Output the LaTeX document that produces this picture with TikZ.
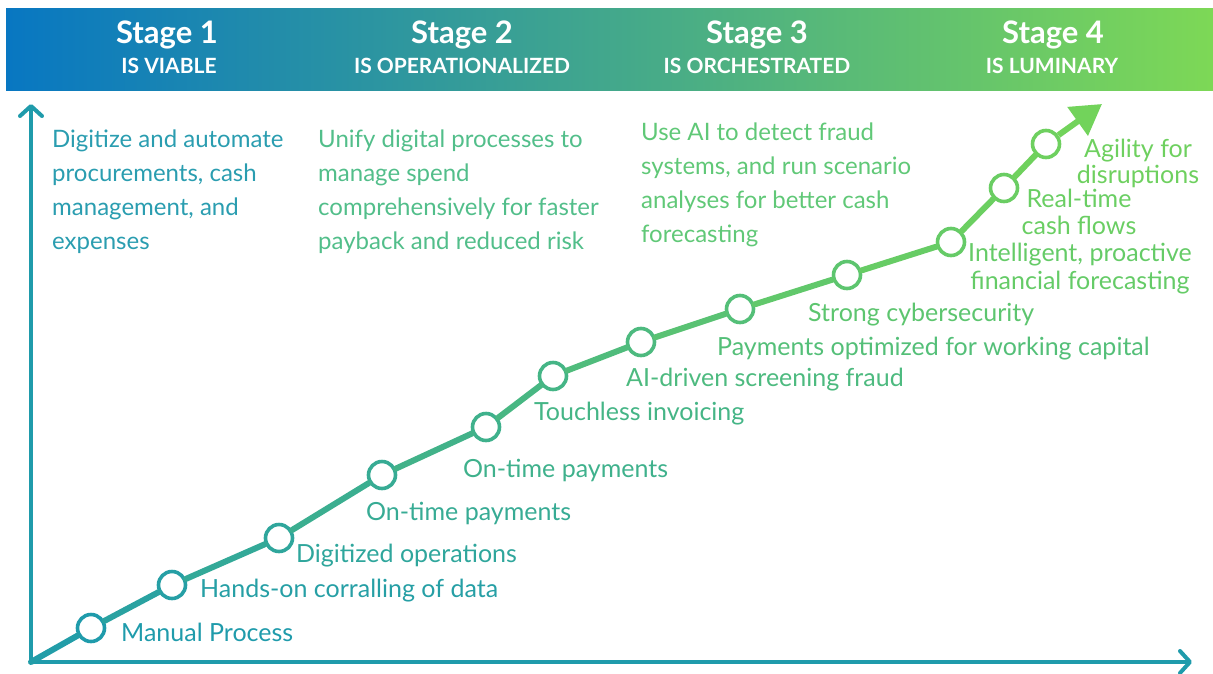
\documentclass[tikz,border=0pt]{standalone}
\usepackage{fontspec}
\setmainfont{Lato}
\usetikzlibrary{arrows.meta}

\definecolor{tealc}{HTML}{1F9BAB}
\definecolor{greenc}{HTML}{72D35B}
\definecolor{bandL}{HTML}{0877C2}
\definecolor{bandR}{HTML}{7DD856}
\definecolor{descA}{HTML}{2A9DB0}
\definecolor{descB}{HTML}{52BE8A}
\definecolor{descC}{HTML}{60C877}

% colour ramp along the curve, teal to green
\colorlet{c1}{greenc!0!tealc}
\colorlet{c2}{greenc!8!tealc}
\colorlet{c3}{greenc!19!tealc}
\colorlet{c4}{greenc!29!tealc}
\colorlet{c5}{greenc!39!tealc}
\colorlet{c6}{greenc!46!tealc}
\colorlet{c7}{greenc!55!tealc}
\colorlet{c8}{greenc!64!tealc}
\colorlet{c9}{greenc!75!tealc}
\colorlet{c10}{greenc!85!tealc}
\colorlet{c11}{greenc!90!tealc}
\colorlet{c12}{greenc!95!tealc}
\colorlet{s1}{greenc!4!tealc}
\colorlet{s2}{greenc!13!tealc}
\colorlet{s3}{greenc!24!tealc}
\colorlet{s4}{greenc!34!tealc}
\colorlet{s5}{greenc!42!tealc}
\colorlet{s6}{greenc!50!tealc}
\colorlet{s7}{greenc!59!tealc}
\colorlet{s8}{greenc!70!tealc}
\colorlet{s9}{greenc!80!tealc}
\colorlet{s10}{greenc!87!tealc}
\colorlet{s11}{greenc!92!tealc}
\colorlet{s12}{greenc!97!tealc}

\begin{document}
\begin{tikzpicture}[x=1pt,y=-1pt,
  seg/.style={line width=6pt, line cap=round},
  dot/.style={circle, draw, fill=white, line width=3.6pt, minimum size=27pt, inner sep=0pt},
  lbl/.style={anchor=base west, inner sep=0pt, font=\fontsize{25}{28}\selectfont},
  desc/.style={anchor=north west, inner sep=0pt, align=left, font=\fontsize{24}{34}\selectfont},
  head/.style={text=white, anchor=base, inner sep=0pt, font=\bfseries\fontsize{31}{33}\selectfont},
  subhead/.style={text=white, anchor=base, inner sep=0pt, font=\bfseries\fontsize{21}{23}\selectfont},
  axisline/.style={draw=tealc, line width=4pt, line cap=round,
                   -{Straight Barb[round, length=10pt, width=22pt]}}
]
\useasboundingbox (0,0) rectangle (1213,673);

% stage band
\fill[left color=bandL, right color=bandR] (6,8) rectangle (1213,90);
\node[head] (h1) at (167,43) {Stage 1};
\node[subhead] (h1s) at (169,73) {IS VIABLE};
\node[head] (h2) at (462,43) {Stage 2};
\node[subhead] (h2s) at (462,73) {IS OPERATIONALIZED};
\node[head] (h3) at (757,43) {Stage 3};
\node[subhead] (h3s) at (757,73) {IS ORCHESTRATED};
\node[head] (h4) at (1053,43) {Stage 4};
\node[subhead] (h4s) at (1052,73) {IS LUMINARY};

% axes
\coordinate (o) at (31,662);
\coordinate (ytip) at (31,104);
\coordinate (xtip) at (1192,662);
\draw[axisline] (o) -- (ytip);
\draw[axisline] (o) -- (xtip);

% stage descriptions
\node[desc, text=descA] (d1) at (52,130) {Digitize and automate\\procurements, cash\\management, and\\expenses};
\node[desc, text=descB] (d2) at (318,130) {Unify digital processes to\\manage spend\\comprehensively for faster\\payback and reduced risk};
\node[desc, text=descC] (d3) at (641,123) {Use AI to detect fraud\\systems, and run scenario\\analyses for better cash\\forecasting};

% milestones
\node[dot, draw=c1]  (p1)  at (91,628) {};
\node[dot, draw=c2]  (p2)  at (172,585) {};
\node[dot, draw=c3]  (p3)  at (279,538) {};
\node[dot, draw=c4]  (p4)  at (382,475) {};
\node[dot, draw=c5]  (p5)  at (486,427) {};
\node[dot, draw=c6]  (p6)  at (553,376) {};
\node[dot, draw=c7]  (p7)  at (641,342) {};
\node[dot, draw=c8]  (p8)  at (740,309) {};
\node[dot, draw=c9]  (p9)  at (847,275) {};
\node[dot, draw=c10] (p10) at (951,242) {};
\node[dot, draw=c11] (p11) at (1004,188) {};
\node[dot, draw=c12] (p12) at (1046,144) {};
\coordinate (tip) at (1102,104);

% curve segments
\draw[seg, s1] (o) -- (p1);
\draw[seg, s2] (p1) -- (p2);
\draw[seg, s3] (p2) -- (p3);
\draw[seg, s4] (p3) -- (p4);
\draw[seg, s5] (p4) -- (p5);
\draw[seg, s6] (p5) -- (p6);
\draw[seg, s7] (p6) -- (p7);
\draw[seg, s8] (p7) -- (p8);
\draw[seg, s9] (p8) -- (p9);
\draw[seg, s10] (p9) -- (p10);
\draw[seg, s11] (p10) -- (p11);
\draw[seg, s12] (p11) -- (p12);
\draw[line width=6pt, greenc, -{Triangle[length=30pt, width=34pt]}] (p12) -- (tip);

% milestone labels
\node[lbl, text=c1]  (l1)  at (121,641) {Manual Process};
\node[lbl, text=c2]  (l2)  at (200,597) {Hands-on corralling of data};
\node[lbl, text=c3]  (l3)  at (296,562) {Digitized operations};
\node[lbl, text=c4]  (l4)  at (366,520) {On-time payments};
\node[lbl, text=c5]  (l5)  at (463,477) {On-time payments};
\node[lbl, text=c6]  (l6)  at (534,420) {Touchless invoicing};
\node[lbl, text=c7]  (l7)  at (626,386) {AI-driven screening fraud};
\node[lbl, text=c8]  (l8)  at (717,355) {Payments optimized for working capital};
\node[lbl, text=c9]  (l9)  at (808,321) {Strong cybersecurity};
\node[lbl, text=c10, anchor=north, align=center, font=\fontsize{25}{28}\selectfont] (l10) at (1080,243) {Intelligent, proactive\\financial forecasting};
\node[lbl, text=c11, anchor=north, align=center, font=\fontsize{25}{27}\selectfont] (l11) at (1079,189) {Real-time\\cash flows};
\node[lbl, text=c12, anchor=north, align=center, font=\fontsize{25}{26}\selectfont] (l12) at (1138,139) {Agility for\\disruptions};
\end{tikzpicture}
\end{document}
